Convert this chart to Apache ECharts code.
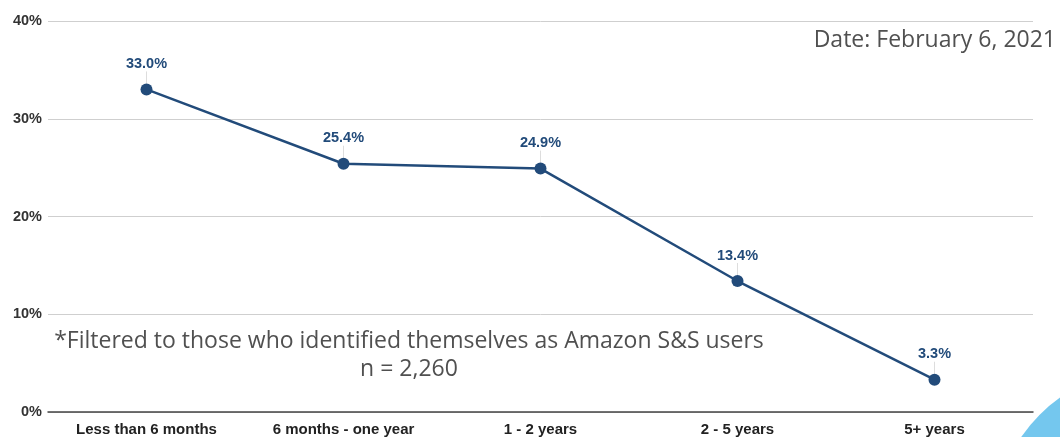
<!DOCTYPE html>
<html>
<head>
<meta charset="utf-8">
<script src="https://cdn.jsdelivr.net/npm/echarts@6/dist/echarts.min.js"></script>
<style>
  html, body { margin: 0; padding: 0; background: #ffffff; }
  #chart { width: 1060px; height: 437px; }
</style>
</head>
<body>
<div id="chart"></div>
<script>
// Tenure of Amazon Subscribe & Save users, share of respondents (%)
const categories = ['Less than 6 months', '6 months - one year', '1 - 2 years', '2 - 5 years', '5+ years'];
const shares = [33.0, 25.4, 24.9, 13.4, 3.3];
const yTicks = [0, 10, 20, 30, 40];

const dateNote = 'Date: February 6, 2021';
const filterNote = '*Filtered to those who identified themselves as Amazon S&S users';
const sampleNote = 'n = 2,260';

const boldFont = 'Liberation Sans, Arial, sans-serif';
const noteFont = '"Open Sans", Lato, sans-serif';

const chart = echarts.init(document.getElementById('chart'), null, { renderer: 'canvas' });

chart.setOption({
  backgroundColor: '#ffffff',
  animation: false,
  grid: { left: 48, right: 27, top: 21, bottom: 24, containLabel: false },
  xAxis: {
    type: 'category',
    data: categories,
    boundaryGap: true,
    axisLine: { show: true, lineStyle: { color: '#444444', width: 1.5 } },
    axisTick: { show: false },
    axisLabel: {
      color: '#222222',
      fontFamily: boldFont,
      fontWeight: 'bold',
      fontSize: 15,
      margin: 10
    }
  },
  yAxis: {
    type: 'value',
    min: yTicks[0],
    max: yTicks[yTicks.length - 1],
    interval: 10,
    axisLine: { show: false },
    axisTick: { show: false },
    splitLine: { lineStyle: { color: '#cfcfcf', width: 1 } },
    axisLabel: {
      color: '#333333',
      fontFamily: boldFont,
      fontWeight: 'bold',
      fontSize: 14.5,
      margin: 6,
      formatter: v => v + '%'
    }
  },
  series: [{
    type: 'line',
    data: shares,
    symbol: 'circle',
    symbolSize: 12,
    itemStyle: { color: '#224b7a' },
    lineStyle: { color: '#224b7a', width: 2.5 },
    label: {
      show: true,
      position: 'top',
      distance: 4,
      color: '#224b7a',
      fontFamily: boldFont,
      fontWeight: 'bold',
      fontSize: 14.5,
      formatter: p => p.value.toFixed(1) + '%'
    },
    labelLayout: { dy: -8 },
    labelLine: { show: true, length2: 0, lineStyle: { color: '#dddddd', width: 1 } }
  }],
  graphic: [
    {
      type: 'circle',
      shape: { cx: 1150, cy: 525, r: 156 },
      style: { fill: '#74c7ee' },
      z: -1
    },
    {
      type: 'text',
      x: 1056,
      y: 29,
      style: {
        text: dateNote,
        fill: '#505050',
        align: 'right',
        font: '23px ' + noteFont
      }
    },
    {
      type: 'text',
      x: 409,
      y: 327,
      style: {
        text: filterNote + '\n' + sampleNote,
        fill: '#505050',
        align: 'center',
        lineHeight: 28,
        font: '23px ' + noteFont
      }
    }
  ]
});
</script>
</body>
</html>
